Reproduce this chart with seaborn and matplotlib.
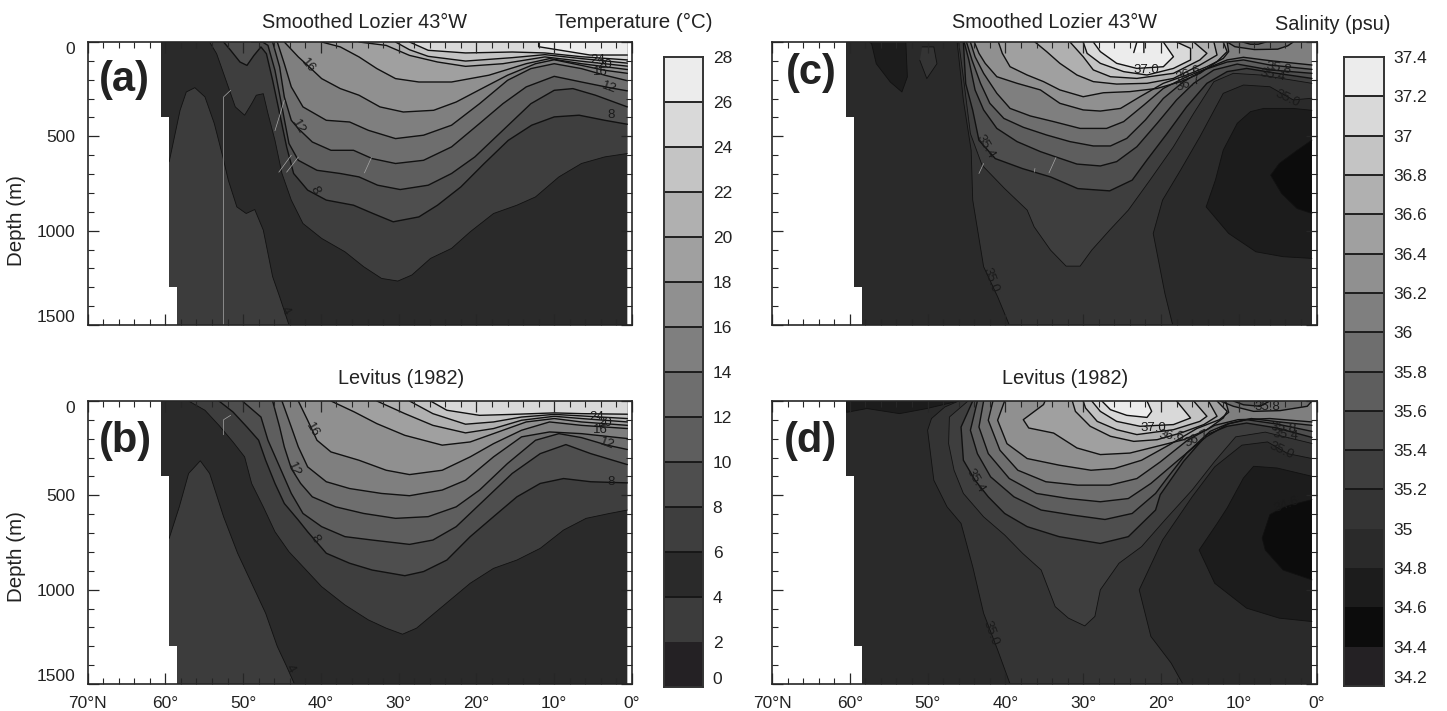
# temperature and salinity sections, 4 panels + 2 stepped colour bars
import numpy as np
import seaborn as sns
import matplotlib
matplotlib.use("Agg")
import matplotlib.pyplot as plt
from matplotlib.colors import ListedColormap
from matplotlib.ticker import MultipleLocator

# %% ------------------------- colour bars -------------------------
t_ticks = [28, 26, 24, 22, 20, 18, 16, 14, 12, 10, 8, 6, 4, 2, 0]
t_colors = ['#ececec', '#d9d9d9', '#c4c4c4', '#b0b0b0', '#a0a0a0', '#909090', '#7f7f7f',
            '#6e6e6e', '#5e5e5e', '#4e4e4e', '#3e3e3e', '#2a2a2a', '#3c3c3c', '#242124']
s_ticks = ['37.4', '37.2', '37', '36.8', '36.6', '36.4', '36.2', '36', '35.8', '35.6',
           '35.4', '35.2', '35', '34.8', '34.6', '34.4', '34.2']
s_colors = ['#ececec', '#d9d9d9', '#c4c4c4', '#b0b0b0', '#a0a0a0', '#909090', '#7f7f7f', '#6e6e6e',
            '#5e5e5e', '#4e4e4e', '#3e3e3e', '#343434', '#2a2a2a', '#1c1c1c', '#0c0c0c', '#242124']

# land steps at the northern edge
land_lat = [60.5, 59.5, 58.45]
land_dep = [0, 397, 1297, 1500]
sea_end = 0.6

# %% ------------------------- panel a, isotherms -------------------------
a4_lat = [62, 59.5, 58.1, 57.3, 56.2, 54.9, 53.7, 52.6, 51.9, 50.8, 49.6, 48.5, 47.4, 46.2, 45.3, 44.1, 0.6]
a4_dep = [635, 635, 362, 265, 242, 291, 432, 609, 732, 874, 909, 888, 997, 1244, 1350, 1500, 1500]
a6_lat = [54.3, 53.4, 52.8, 51.9, 51.0, 49.8, 48.9, 48.3, 47.4, 46.8, 45.9, 45.0, 43.8, 42.3, 39.9, 36.9, 34.5, 32.2, 30.1, 28.3, 25.9, 23.2, 20.8, 17.8, 14.8, 12.4, 9.4, 6.5, 3.5, 0.6]
a6_dep = [0, 62, 132, 238, 344, 388, 327, 282, 274, 379, 521, 697, 838, 962, 1041, 1112, 1191, 1253, 1267, 1235, 1147, 1094, 1006, 909, 865, 821, 715, 644, 609, 591]
a8_lat = [52.5, 51.6, 50.4, 49.5, 48.6, 47.7, 47.0, 46.2, 45.3, 44.4, 43.5, 41.7, 39.3, 35.8, 33.3, 30.7, 27.4, 25.0, 22.0, 19.0, 15.9, 12.9, 10.0, 6.8, 3.5, 0.6]
a8_dep = [0, 44, 106, 124, 71, 26, 62, 203, 379, 556, 697, 785, 838, 865, 909, 953, 927, 865, 768, 644, 521, 441, 397, 388, 415, 436]
a10_lat = [48.9, 47.5, 46.8, 45.9, 45.0, 44.1, 42.9, 40.5, 37.5, 35.1, 32.7, 29.8, 26.2, 23.2, 20.2, 16.6, 13.0, 10.0, 7.6, 4.7, 0.6]
a10_dep = [0, 0, 18, 150, 344, 538, 627, 680, 697, 715, 759, 782, 759, 697, 609, 468, 327, 256, 247, 282, 344]
a12_lat = [46.2, 45.3, 44.7, 43.8, 42.9, 41.1, 38.7, 35.8, 33.4, 30.4, 26.8, 23.2, 19.6, 16.6, 13.6, 10.0, 6.5, 2.9, 0.6]
a12_dep = [0, 132, 291, 415, 459, 530, 574, 574, 618, 644, 627, 556, 432, 327, 238, 182, 212, 242, 259]
a14_lat = [45.6, 44.7, 43.8, 42.3, 39.3, 36.3, 33.9, 30.4, 26.8, 23.2, 19.6, 16.0, 13.0, 10.0, 6.5, 3.5, 0.6]
a14_dep = [0, 115, 238, 344, 415, 424, 468, 512, 494, 441, 327, 203, 141, 115, 141, 176, 205]
a16_lat = [44.7, 42.9, 41.7, 39.9, 37.5, 35.1, 32.4, 29.4, 25.5, 22.6, 18.9, 16.0, 12.4, 10.0, 6.5, 3.5, 0.6]
a16_dep = [0, 79, 124, 194, 247, 282, 344, 371, 362, 318, 238, 176, 115, 94, 124, 150, 166]
a18_lat = [39.9, 37.5, 35.1, 32.8, 30.4, 27.4, 23.2, 18.4, 13.6, 10.6, 6.5, 0.6]
a18_dep = [0, 26, 79, 141, 194, 212, 212, 176, 115, 88, 115, 146]
a20_lat = [35.1, 31.6, 28.6, 25.0, 21.4, 16.6, 11.2, 6.5, 0.6]
a20_dep = [0, 18, 71, 106, 129, 115, 79, 102, 128]
a22_lat = [30.4, 28.6, 26.2, 21.4, 15.4, 11.2, 6.5, 0.6]
a22_dep = [0, 41, 76, 101, 83, 67, 88, 112]
a24_lat = [28.6, 26.2, 21.4, 15.4, 11.2, 6.5, 0.6]
a24_dep = [0, 44, 58, 53, 58, 78, 95]
a26_lat = [12.0, 12.0, 5.4, 0.6]
a26_dep = [0, 25, 69, 69]

# %% ------------------------- panel b, isotherms -------------------------
b4_lat = [62, 59.5, 58.2, 57.0, 55.5, 54.3, 52.5, 50.7, 48.9, 47.1, 45.6, 44.4, 43.4, 0.6]
b4_dep = [728, 728, 561, 384, 317, 384, 614, 807, 966, 1125, 1301, 1407, 1500, 1500]
b6_lat = [57.0, 54.9, 53.1, 51.3, 49.8, 48.9, 47.4, 45.9, 44.1, 42.3, 39.9, 36.9, 33.9, 31.6, 29.5, 27.7, 24.4, 20.8, 17.8, 14.8, 11.8, 8.8, 5.9, 2.9, 0.6]
b6_dep = [0, 49, 129, 217, 296, 437, 561, 693, 799, 878, 984, 1081, 1160, 1204, 1236, 1204, 1090, 966, 887, 843, 781, 684, 622, 596, 578]
b8_lat = [53.1, 51.3, 49.5, 48.0, 47.1, 45.9, 44.7, 42.9, 41.7, 39.3, 36.3, 33.4, 29.2, 26.8, 23.8, 20.8, 17.8, 14.8, 11.8, 8.8, 5.3, 0.6]
b8_dep = [0, 58, 138, 208, 314, 437, 543, 631, 693, 807, 860, 896, 926, 904, 843, 719, 613, 508, 437, 411, 428, 434]
b10_lat = [50.1, 47.7, 46.8, 45.3, 43.8, 42.3, 39.9, 36.9, 33.4, 28.6, 25.6, 22.6, 19.0, 15.4, 11.8, 8.5, 5.3, 0.6]
b10_dep = [0, 85, 208, 349, 490, 596, 666, 719, 737, 760, 737, 666, 525, 384, 279, 231, 279, 337]
b12_lat = [46.2, 45.3, 44.7, 43.8, 42.6, 41.1, 38.1, 34.5, 30.4, 26.2, 22.6, 19.6, 16.0, 12.4, 9.4, 6.5, 3.2, 0.6]
b12_dep = [0, 138, 243, 358, 437, 508, 561, 596, 622, 613, 561, 472, 331, 208, 173, 194, 234, 257]
b14_lat = [45.0, 43.8, 42.9, 41.7, 39.3, 36.3, 32.2, 28.6, 24.4, 21.4, 17.8, 14.2, 10.6, 6.5, 0.6]
b14_dep = [0, 138, 243, 349, 428, 464, 490, 502, 472, 420, 296, 190, 164, 173, 199]
b16_lat = [42.9, 41.7, 40.5, 38.7, 35.1, 31.6, 28.6, 24.4, 20.8, 17.8, 14.2, 10.6, 6.5, 0.6]
b16_dep = [0, 102, 208, 270, 314, 367, 390, 367, 296, 226, 155, 111, 129, 146]
b18_lat = [38.7, 35.7, 32.8, 29.2, 24.4, 20.8, 17.2, 13.6, 10.0, 6.5, 0.6]
b18_dep = [0, 58, 120, 182, 234, 217, 164, 111, 93, 111, 129]
b20_lat = [32.8, 29.2, 25.6, 21.4, 17.8, 14.2, 10.0, 6.5, 0.6]
b20_dep = [0, 67, 129, 169, 146, 102, 81, 93, 111]
b22_lat = [28.6, 25.6, 21.4, 17.8, 14.2, 10.0, 6.5, 0.6]
b22_dep = [0, 67, 123, 111, 85, 71, 79, 93]
b24_lat = [25.9, 23.8, 19.6, 15.4, 10.0, 6.5, 0.6]
b24_dep = [0, 49, 76, 71, 63, 67, 70]

# %% ------------------------- panel c, isohalines -------------------------
c350_lat = [46.2, 45.4, 44.4, 44.2, 42.8, 41.0, 39.5, 18.5, 19.5, 21.0, 19.8, 17.5, 15.0, 12.0, 9.4, 6.0, 3.0, 0.6]
c350_dep = [0, 309, 574, 838, 1191, 1350, 1500, 1500, 1333, 1015, 838, 680, 502, 272, 228, 237, 307, 298]
c352_lat = [46.0, 45.3, 44.5, 43.0, 40.1, 37.2, 36.3, 34.2, 32.2, 30.4, 28.9, 26.6, 24.2, 21.4, 18.4, 15.8, 13.2, 10.7, 7.2, 0.6]
c352_dep = [0, 221, 485, 653, 777, 891, 980, 1103, 1188, 1188, 1103, 997, 891, 731, 555, 378, 210, 166, 175, 219]
c354_lat = [45.4, 45.1, 44.2, 43.4, 41.3, 37.8, 34.2, 30.7, 26.6, 23.7, 21.8, 19.2, 16.7, 14.1, 11.5, 9.0, 5.1, 0.6]
c354_dep = [0, 221, 362, 521, 618, 671, 715, 777, 789, 732, 625, 484, 343, 219, 157, 140, 166, 193]
c356_lat = [45.3, 44.7, 43.9, 42.8, 41.1, 38.5, 35.5, 33.6, 30.8, 27.8, 25.7, 23.1, 20.5, 18.0, 15.8, 13.2, 10.2, 6.0, 0.6]
c356_dep = [0, 95, 254, 360, 458, 528, 581, 608, 647, 657, 634, 555, 431, 307, 219, 148, 117, 148, 166]
c358_lat = [45.0, 44.3, 43.2, 42.0, 40.2, 37.7, 34.7, 31.7, 28.7, 26.5, 24.4, 22.0, 19.7, 17.1, 14.5, 11.5, 9.4, 6.0, 0.6]
c358_dep = [0, 95, 219, 325, 405, 452, 493, 528, 551, 551, 511, 413, 299, 210, 148, 106, 95, 122, 145]
c360_lat = [44.5, 43.9, 42.8, 41.1, 39.4, 36.8, 33.8, 30.4, 27.0, 24.8, 22.2, 19.7, 16.7, 14.1, 11.5, 9.4, 6.0, 0.6]
c360_dep = [0, 78, 166, 272, 352, 392, 422, 458, 458, 422, 334, 246, 184, 140, 95, 81, 99, 122]
c362_lat = [44.0, 43.4, 42.6, 41.1, 38.5, 35.5, 33.0, 30.0, 27.8, 25.2, 22.7, 19.7, 16.7, 14.1, 12.0, 11.3, 11.5]
c362_dep = [0, 60, 113, 184, 219, 254, 325, 360, 366, 352, 290, 219, 175, 131, 87, 51, 0]
c364_lat = [40.9, 40.4, 39.4, 37.2, 35.1, 33.0, 30.0, 27.4, 24.0, 20.5, 17.5, 15.0, 12.8, 11.5, 12.0]
c364_dep = [0, 60, 131, 175, 210, 254, 290, 269, 263, 246, 210, 166, 104, 51, 0]
c366_lat = [36.2, 34.7, 33.0, 30.8, 28.7, 25.7, 21.8, 18.4, 15.0, 12.8, 13.2]
c366_dep = [0, 51, 113, 175, 210, 223, 219, 193, 122, 69, 0]
c368_lat = [31.7, 30.0, 28.7, 26.5, 23.1, 18.4, 15.0, 14.1, 15.8]
c368_dep = [0, 78, 148, 184, 193, 166, 95, 60, 0]
c370_lat = [30.0, 29.5, 27.8, 24.8, 21.8, 18.4, 16.2, 16.2, 18.0]
c370_dep = [0, 60, 113, 157, 175, 140, 95, 34, 0]
c372_lat = [28.7, 27.8, 25.7, 23.1, 19.7, 18.4, 19.7]
c372_dep = [0, 51, 113, 140, 131, 78, 0]
c374_lat = [23.5, 23.1, 22.2, 22.2]
c374_dep = [56, 0, 0, 56]
# low salinity pockets
c348_lat = [0.6, 3.0, 6.8, 8.5, 10.2, 12.0, 13.0, 14.2, 11.3, 7.8, 4.3, 0.6]
c348_dep = [362, 352, 352, 369, 431, 573, 731, 874, 1015, 1112, 1138, 1147]
c346_lat = [0.6, 2.5, 4.8, 5.9, 4.5, 2.5, 0.6]
c346_dep = [520, 574, 644, 706, 803, 883, 909]
c348n_lat = [57.5, 57.2, 56.6, 54.8, 53.3, 52.6, 52.8]
c348n_dep = [0, 9, 115, 212, 265, 185, 0]
c350n_lat = [50.7, 49.2, 48.8, 50.1, 51.0]
c350n_dep = [26, 26, 115, 194, 97]
c360s_lat = [11.5, 10.5, 8.0, 5.0, 3.7, 3.0]
c360s_dep = [0, 25, 40, 38, 20, 0]
c358s_lat = [9.5, 8.5, 7.5, 6.5]
c358s_dep = [0, 12, 12, 0]

# %% ------------------------- panel d, isohalines -------------------------
d350_lat = [46.0, 47.8, 49.5, 50.0, 49.2, 47.5, 45.7, 44.2, 42.8, 41.0, 39.4, 17.2, 18.7, 21.3, 22.8, 19.8, 16.0, 13.1, 9.6, 6.3, 3.7, 0.6]
d350_dep = [0, 32, 93, 155, 420, 561, 649, 878, 1125, 1319, 1500, 1500, 1389, 1248, 1001, 737, 508, 349, 234, 217, 279, 305]
d352_lat = [44.8, 47.2, 47.3, 46.6, 45.4, 42.8, 40.1, 37.8, 35.4, 33.6, 31.9, 29.8, 28.5, 27.8, 25.4, 22.5, 19.5, 16.0, 13.1, 10.4, 6.6, 0.6]
d352_dep = [0, 85, 226, 367, 490, 614, 710, 807, 896, 1090, 1151, 1192, 1142, 1001, 860, 772, 631, 472, 320, 190, 165, 225]
d354_lat = [44.2, 45.7, 45.4, 43.9, 42.2, 40.1, 37.2, 33.1, 27.8, 24.2, 20.7, 20.1, 17.1, 14.1, 11.5, 9.0, 5.1, 0.6]
d354_dep = [0, 138, 314, 420, 508, 596, 666, 719, 755, 719, 578, 497, 320, 178, 134, 117, 143, 193]
d356_lat = [43.6, 44.5, 43.6, 41.9, 38.9, 35.4, 31.3, 27.2, 23.7, 20.7, 19.2, 16.7, 13.7, 11.5, 9.0, 5.1, 0.6]
d356_dep = [0, 155, 279, 402, 508, 578, 605, 628, 596, 490, 408, 276, 161, 122, 99, 122, 161]
d358_lat = [42.8, 43.4, 42.2, 39.5, 36.0, 31.9, 27.8, 24.2, 21.3, 17.8, 14.2, 11.3, 8.4, 4.8, 0.6]
d358_dep = [0, 138, 279, 411, 490, 517, 534, 517, 437, 314, 190, 120, 93, 111, 129]
d360_lat = [41.6, 42.2, 40.7, 38.4, 34.8, 30.7, 26.6, 23.1, 20.1, 16.6, 13.1, 10.1, 6.0, 0.6]
d360_dep = [0, 102, 261, 367, 428, 446, 446, 411, 323, 208, 129, 99, 93, 111]
d362_lat = [40.1, 41.0, 39.8, 37.2, 33.1, 29.0, 26.0, 22.5, 19.0, 15.4, 12.5, 11.3, 11.7]
d362_dep = [0, 102, 226, 305, 340, 367, 358, 314, 234, 146, 99, 60, 0]
d364_lat = [34.9, 35.1, 37.7, 37.0, 33.8, 30.8, 27.8, 24.0, 20.5, 17.1, 14.1, 12.0, 11.5, 12.8]
d364_dep = [0, 19, 99, 143, 170, 249, 284, 276, 240, 205, 152, 90, 55, 0]
d366_lat = [31.4, 31.0, 29.1, 26.5, 23.5, 20.5, 17.5, 14.5, 12.8, 13.9]
d366_dep = [0, 55, 134, 187, 214, 205, 170, 125, 81, 0]
d368_lat = [30.0, 29.7, 28.2, 25.7, 23.1, 18.4, 15.0, 14.1, 15.8]
d368_dep = [0, 37, 108, 152, 178, 152, 108, 81, 0]
d370_lat = [28.9, 27.8, 25.7, 22.7, 18.4, 16.2, 18.0]
d370_dep = [0, 55, 108, 134, 125, 90, 0]
d372_lat = [27.6, 26.5, 24.4, 21.8, 21.2, 21.8]
d372_dep = [0, 46, 76, 87, 55, 0]
d348_lat = [0.6, 5.1, 8.1, 9.4, 11.5, 12.8, 15.1, 13.1, 9.0, 4.8, 0.6]
d348_dep = [399, 355, 346, 408, 567, 650, 790, 966, 1098, 1151, 1169]
d346_lat = [0.6, 4.0, 6.0, 7.0, 6.6, 4.3, 0.6]
d346_dep = [523, 558, 602, 726, 790, 896, 948]
d348n_lat = [60.5, 60.4, 57.8, 53.6, 50.1, 46.0]
d348n_dep = [0, 60, 40, 67, 40, 0]
d360s_lat = [12.4, 10.7, 8.1, 4.7, 1.2, 0.6]
d360s_dep = [0, 28, 55, 51, 28, 0]
d358s_lat = [10.7, 9.4, 7.3, 6.0]
d358s_dep = [0, 20, 28, 0]

# %% contour labels: text, lat, depth, rotation
a_labels = [('16', 41.7, 124, -50), ('12', 42.9, 450, -60), ('8', 40.8, 785, -65), ('24', 4.4, 97, 0),
            ('20', 3.5, 124, 0), ('16', 4.0, 159, 0), ('12', 2.9, 242, -20), ('8', 2.7, 385, 0), ('4', 44.6, 1425, -60)]
b_labels = [('16', 41.1, 155, -60), ('12', 43.5, 363, -65), ('8', 40.8, 728, -60), ('24', 4.6, 85, 0),
            ('20', 3.5, 116, 0), ('16', 4.0, 152, 0), ('12', 3.2, 226, -20), ('8', 2.7, 428, 0), ('4', 44.0, 1420, -60)]
c_labels = [('37.0', 21.9, 146, 0), ('36.6', 16.4, 171, 20), ('36.7', 16.4, 220, 20), ('35.8', 4.9, 141, -10),
            ('35.4', 5.7, 176, -10), ('35.0', 3.7, 300, -25), ('35.4', 42.5, 555, -60), ('35.0', 41.9, 1262, -70)]
d_labels = [('37.0', 21.0, 141, 0), ('36.6', 18.6, 187, -5), ('36.7', 15.4, 199, 25), ('35.8', 4.3, 146, -5),
            ('35.4', 4.0, 182, -5), ('35.0', 4.5, 261, -25), ('35.8', 6.3, 32, 0), ('34.6', 3.9, 552, 20),
            ('35.4', 43.9, 420, -60), ('35.0', 41.9, 1230, -70)]

# thin white specks the original section has
a_specks = [([52.5, 52.5, 51.6], [1500, 291, 256]), ([45.4, 43.8], [690, 600]), ([42.9, 44.4], [610, 690]),
            ([33.5, 34.4], [612, 694]), ([44.7, 45.9], [310, 470])]
b_specks = [([52.5, 52.5, 51.6], [179, 99, 76])]
c_specks = [([33.5, 34.4], [612, 694]), ([42.8, 43.4], [644, 697]), ([36.2, 36.3], [670, 690])]

# %% plot ------------------------------------------------------------------
W, H = 1447, 711
sns.set_theme(style='ticks')
plt.rcParams['font.family'] = ['Liberation Sans', 'DejaVu Sans']
txt_col = '#222222'


def box(x0, y0, x1, y1):
    # pixel box --> figure fractions
    return [x0 / W, 1 - y1 / H, (x1 - x0) / W, (y1 - y0) / H]


def put(x, y, s, **kw):
    fig.text(x / W, 1 - y / H, s, ha='center', va='center', color=txt_col, **kw)


def section(ax, base, bands, lows, labels, specks):
    ax.set_facecolor('white')
    ax.fill_between([62, sea_end], 0, 1500, color=base, lw=0, zorder=1)
    for col, lat, dep in bands:
        ax.fill(lat + [lat[-1], lat[0]], dep + [0, 0], color=col, lw=0, zorder=2)
    for col, lat, dep in lows:
        ax.fill(lat, dep, color=col, lw=0, zorder=2)
    for col, lat, dep in bands + lows:
        dark = col in ('#3e3e3e', '#343434', '#2a2a2a', '#1c1c1c', '#0c0c0c')
        sns.lineplot(x=lat, y=dep, sort=False, estimator=None, color='#111111', ax=ax,
                     linewidth=0.6 if dark else 1.0, legend=False, zorder=3)
    for lat, dep in specks:
        ax.plot(lat, dep, color='#a8a8a8', lw=0.5, zorder=4)
    for s, lat, dep, rot in labels:
        ax.text(lat, dep, s, fontsize=9.5, rotation=rot, ha='center', va='center', color='#1a1a1a', zorder=5)
    # land
    ax.fill_betweenx(land_dep, 70, land_lat + [land_lat[-1]], step='post', color='white', lw=0, zorder=6)
    ax.set_xlim(70, 0)
    ax.set_ylim(1500, 0)
    ax.set_xlabel('')
    ax.set_ylabel('')
    ax.xaxis.set_major_locator(MultipleLocator(10))
    ax.xaxis.set_minor_locator(MultipleLocator(2))
    ax.yaxis.set_major_locator(MultipleLocator(500))
    ax.yaxis.set_minor_locator(MultipleLocator(100))
    ax.tick_params(which='major', direction='in', top=True, right=True, length=8, width=0.9,
                   labelsize=12.5, labelcolor=txt_col, pad=9)
    ax.tick_params(which='minor', direction='in', top=True, right=True, length=4, width=0.8)
    ax.set_xticklabels([])
    ax.set_yticklabels([])
    ax.xaxis.set_zorder(8)
    ax.yaxis.set_zorder(8)
    for sp in ax.spines.values():
        sp.set_linewidth(1.2)
        sp.set_zorder(9)


def stepped_bar(ax, colors, ticks, n_lines):
    n = len(colors)
    sns.heatmap(np.arange(n)[:, None], cmap=ListedColormap(colors), cbar=False, ax=ax,
                xticklabels=False, yticklabels=False, vmin=-0.5, vmax=n - 0.5)
    # the lowest dark bands have no visible line between them
    ax.hlines(range(1, n_lines), 0, 1, color='#151515', lw=1.3)
    ax.yaxis.tick_right()
    ax.set_yticks(range(n + 1))
    ax.set_yticklabels(ticks, rotation=0, fontsize=12.5, color=txt_col)
    ax.tick_params(length=0, pad=7)
    labels = ax.get_yticklabels()
    labels[-1].set_verticalalignment('bottom')
    for sp in ax.spines.values():
        sp.set_visible(True)
        sp.set_color('#333333')
        sp.set_linewidth(1.4)


def t_col(level):
    return t_colors[(28 - level) // 2 - 1]


def s_col(level):
    # level is 10x salinity
    return s_colors[(374 - level) // 2 - 1]


fig = plt.figure(figsize=(W / 100, H / 100), dpi=100)
ax_a = fig.add_axes(box(87.5, 42, 632, 325))
ax_b = fig.add_axes(box(87.5, 401, 632, 684))
ax_c = fig.add_axes(box(772, 42, 1316.6, 325))
ax_d = fig.add_axes(box(772, 401, 1316.6, 684))
cax_t = fig.add_axes(box(663.5, 57, 703, 687))
cax_s = fig.add_axes(box(1344, 57, 1384, 686))

a_bands = [(t_col(4), a4_lat, a4_dep), (t_col(6), a6_lat, a6_dep), (t_col(8), a8_lat, a8_dep), (t_col(10), a10_lat, a10_dep),
           (t_col(12), a12_lat, a12_dep), (t_col(14), a14_lat, a14_dep), (t_col(16), a16_lat, a16_dep),
           (t_col(18), a18_lat, a18_dep), (t_col(20), a20_lat, a20_dep), (t_col(22), a22_lat, a22_dep), (t_col(24), a24_lat, a24_dep),
           (t_col(26), a26_lat, a26_dep)]
b_bands = [(t_col(4), b4_lat, b4_dep), (t_col(6), b6_lat, b6_dep), (t_col(8), b8_lat, b8_dep), (t_col(10), b10_lat, b10_dep),
           (t_col(12), b12_lat, b12_dep), (t_col(14), b14_lat, b14_dep), (t_col(16), b16_lat, b16_dep),
           (t_col(18), b18_lat, b18_dep), (t_col(20), b20_lat, b20_dep), (t_col(22), b22_lat, b22_dep), (t_col(24), b24_lat, b24_dep)]
c_bands = [(s_col(350), c350_lat, c350_dep), (s_col(352), c352_lat, c352_dep), (s_col(354), c354_lat, c354_dep),
           (s_col(356), c356_lat, c356_dep), (s_col(358), c358_lat, c358_dep), (s_col(360), c360_lat, c360_dep),
           (s_col(362), c362_lat, c362_dep), (s_col(364), c364_lat, c364_dep), (s_col(366), c366_lat, c366_dep),
           (s_col(368), c368_lat, c368_dep), (s_col(370), c370_lat, c370_dep), (s_col(372), c372_lat, c372_dep)]
c_lows = [(s_col(346), c348_lat, c348_dep), (s_col(344), c346_lat, c346_dep), (s_col(346), c348n_lat, c348n_dep),
          (s_col(350), c350n_lat, c350n_dep), (s_col(358), c360s_lat, c360s_dep), (s_col(356), c358s_lat, c358s_dep),
          ('#f4f4f4', c374_lat, c374_dep)]
d_bands = [(s_col(350), d350_lat, d350_dep), (s_col(352), d352_lat, d352_dep), (s_col(354), d354_lat, d354_dep),
           (s_col(356), d356_lat, d356_dep), (s_col(358), d358_lat, d358_dep), (s_col(360), d360_lat, d360_dep),
           (s_col(362), d362_lat, d362_dep), (s_col(364), d364_lat, d364_dep), (s_col(366), d366_lat, d366_dep),
           (s_col(368), d368_lat, d368_dep), (s_col(370), d370_lat, d370_dep), (s_col(372), d372_lat, d372_dep)]
d_lows = [(s_col(346), d348_lat, d348_dep), (s_col(344), d346_lat, d346_dep), (s_col(346), d348n_lat, d348n_dep),
          (s_col(358), d360s_lat, d360s_dep), (s_col(356), d358s_lat, d358s_dep)]

section(ax_a, t_col(2), a_bands, [], a_labels, a_specks)
section(ax_b, t_col(2), b_bands, [], b_labels, b_specks)
section(ax_c, s_col(348), c_bands, c_lows, c_labels, c_specks)
section(ax_d, s_col(348), d_bands, d_lows, d_labels, [])

for ax in (ax_a, ax_b):
    ax.set_yticks([0, 500, 1000, 1500])
    ax.set_yticklabels(['0', '500', '1000', '1500'])
    ax.get_yticklabels()[0].set_verticalalignment('top')
    ax.get_yticklabels()[-1].set_verticalalignment('bottom')
for ax in (ax_b, ax_d):
    ax.set_xticks(range(70, -1, -10))
    ax.set_xticklabels(['70°N', '60°', '50°', '40°', '30°', '20°', '10°', '0°'])

stepped_bar(cax_t, t_colors, [str(t) for t in t_ticks], 13)
stepped_bar(cax_s, s_colors, s_ticks, 12)

put(364, 22, 'Smoothed Lozier 43°W', fontsize=14.3)
put(1054, 22, 'Smoothed Lozier 43°W', fontsize=14.3)
put(401, 379, 'Levitus (1982)', fontsize=14.3)
put(1065, 379, 'Levitus (1982)', fontsize=14.3)
put(634, 22, 'Temperature (°C)', fontsize=14.8)
put(1333, 25, 'Salinity (psu)', fontsize=14.3)
put(17, 221, 'Depth (m)', fontsize=14.8, rotation=90)
put(17, 557, 'Depth (m)', fontsize=14.8, rotation=90)
put(124, 80, '(a)', fontsize=30, fontweight='bold')
put(125, 441, '(b)', fontsize=30, fontweight='bold')
put(811, 73, '(c)', fontsize=30, fontweight='bold')
put(810, 441, '(d)', fontsize=30, fontweight='bold')

fig.savefig('out.png', dpi=100)
plt.close('all')
